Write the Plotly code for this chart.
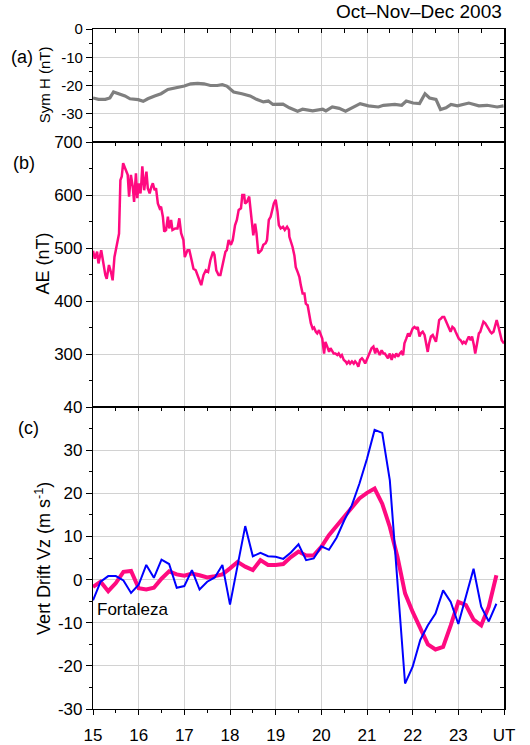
import plotly.graph_objects as go

# ---------------- data ----------------
symh_ut = [15.00, 15.12, 15.27, 15.37, 15.45, 15.56, 15.70, 15.81, 15.99, 16.10, 16.20, 16.35, 16.49,
           16.64, 16.78, 17.00, 17.14, 17.29, 17.43, 17.57, 17.72, 17.83, 17.93, 18.08, 18.26, 18.44,
           18.58, 18.73, 18.84, 18.94, 19.16, 19.30, 19.48, 19.59, 19.81, 20.03, 20.10, 20.24, 20.39,
           20.53, 20.67, 20.85, 21.03, 21.25, 21.36, 21.61, 21.76, 21.86, 22.01, 22.15, 22.27, 22.37,
           22.51, 22.61, 22.73, 22.84, 22.98, 23.23, 23.45, 23.63, 23.85, 23.99]
symh_nt = [-24.4, -24.9, -24.9, -24.4, -22.3, -22.9, -23.7, -24.7, -25.0, -25.6, -24.7, -23.7, -22.9,
           -21.4, -20.9, -20.2, -19.4, -19.2, -19.4, -20.0, -20.0, -19.7, -20.2, -22.3, -22.9, -23.7,
           -24.9, -25.8, -25.5, -26.7, -26.6, -27.9, -29.1, -28.4, -29.0, -28.4, -29.0, -27.6, -28.1,
           -29.1, -27.9, -26.4, -27.2, -27.6, -27.0, -26.7, -27.0, -25.5, -26.2, -26.4, -22.9, -24.4,
           -24.9, -28.5, -27.9, -26.7, -27.2, -26.2, -27.2, -27.0, -27.6, -27.2]

ae_ut = [15.00, 15.04, 15.09, 15.12, 15.18, 15.23, 15.27, 15.30, 15.35, 15.40, 15.43, 15.47, 15.52,
         15.57, 15.60, 15.63, 15.66, 15.71, 15.76, 15.79, 15.83, 15.87, 15.90, 15.94, 15.97, 16.00,
         16.04, 16.06, 16.08, 16.12, 16.17, 16.20, 16.24, 16.28, 16.31, 16.35, 16.38, 16.42, 16.46,
         16.49, 16.53, 16.56, 16.60, 16.64, 16.67, 16.71, 16.74, 16.80, 16.85, 16.89, 16.93, 16.98,
         17.01, 17.07, 17.11, 17.16, 17.20, 17.25, 17.29, 17.34, 17.37, 17.42, 17.47, 17.52, 17.57,
         17.63, 17.66, 17.70, 17.75, 17.79, 17.83, 17.86, 17.90, 17.93, 17.97, 18.02, 18.06, 18.11,
         18.15, 18.19, 18.24, 18.27, 18.31, 18.33, 18.37, 18.42, 18.45, 18.49, 18.51, 18.55, 18.58,
         18.62, 18.66, 18.69, 18.73, 18.78, 18.81, 18.85, 18.89, 18.93, 18.96, 19.00, 19.04, 19.07,
         19.11, 19.16, 19.20, 19.25, 19.29, 19.30, 19.34, 19.37, 19.41, 19.44, 19.48, 19.52, 19.55,
         19.59, 19.63, 19.66, 19.70, 19.73, 19.77, 19.81, 19.84, 19.88, 19.91, 19.95, 19.99, 20.02,
         20.06, 20.09, 20.13, 20.17, 20.20, 20.24, 20.27, 20.31, 20.35, 20.38, 20.42, 20.45, 20.49,
         20.53, 20.56, 20.60, 20.63, 20.67, 20.71, 20.74, 20.78, 20.81, 20.85, 20.89, 20.92, 20.96,
         20.99, 21.03, 21.07, 21.10, 21.14, 21.18, 21.21, 21.25, 21.28, 21.32, 21.36, 21.39, 21.43,
         21.46, 21.50, 21.54, 21.57, 21.61, 21.64, 21.68, 21.72, 21.75, 21.79, 21.82, 21.86, 21.90,
         21.93, 21.97, 22.00, 22.04, 22.08, 22.11, 22.15, 22.18, 22.22, 22.26, 22.29, 22.33, 22.36,
         22.40, 22.44, 22.47, 22.51, 22.55, 22.58, 22.62, 22.65, 22.69, 22.73, 22.76, 22.80, 22.83,
         22.87, 22.91, 22.94, 22.98, 23.01, 23.05, 23.09, 23.12, 23.16, 23.19, 23.23, 23.27, 23.30,
         23.34, 23.37, 23.41, 23.45, 23.48, 23.52, 23.55, 23.59, 23.63, 23.66, 23.70, 23.73, 23.77,
         23.81, 23.84, 23.88, 23.91, 23.95, 24.00]
ae_nt = [495, 480, 493, 471, 496, 468, 449, 442, 468, 452, 439, 483, 502,
         527, 628, 635, 660, 650, 638, 597, 638, 616, 587, 641, 594, 622,
         603, 625, 654, 609, 644, 613, 603, 616, 622, 609, 613, 584, 575,
         578, 559, 531, 534, 559, 537, 553, 534, 537, 537, 556, 528, 515,
         483, 496, 496, 477, 461, 458, 449, 436, 430, 449, 458, 455, 477,
         493, 487, 458, 449, 449, 465, 471, 493, 496, 515, 506, 515, 543,
         553, 572, 575, 600, 600, 584, 587, 597, 575, 546, 524, 546, 528,
         490, 493, 496, 506, 509, 515, 553, 559, 572, 584, 591, 569, 543,
         537, 540, 534, 540, 534, 521, 511, 502, 486, 464, 455, 445, 430,
         414, 414, 395, 392, 373, 358, 348, 350, 342, 339, 345, 336, 329,
         301, 323, 314, 304, 311, 304, 301, 301, 298, 301, 295, 298, 289,
         286, 282, 286, 282, 286, 282, 286, 282, 276, 289, 292, 289, 282,
         289, 298, 307, 311, 314, 301, 311, 304, 298, 307, 301, 301, 295,
         292, 301, 289, 298, 295, 301, 295, 301, 304, 298, 320, 329, 339,
         333, 342, 348, 351, 348, 351, 333, 339, 342, 336, 320, 304, 320,
         333, 336, 329, 323, 345, 364, 367, 370, 370, 361, 354, 348, 342,
         351, 348, 342, 336, 329, 326, 320, 323, 320, 326, 333, 326, 333,
         317, 301, 320, 339, 342, 354, 361, 358, 351, 348, 342, 339, 342,
         354, 364, 351, 339, 326, 320]

# vertical drift, 10-minute samples starting at 15 UT
drift_ut = [15 + i / 6 for i in range(54)]
drift_pink = [-1.7, -0.5, -2.7, -0.8, 1.8, 2.0, -2.0, -2.3, -1.9, 0.2, 1.9, 1.2, 0.9, 1.4, 1.0,
              0.5, 0.8, 1.2, 2.6, 4.1, 3.0, 2.2, 4.5, 3.4, 3.4, 3.6, 5.2, 6.5, 5.6, 5.6, 7.6,
              10.3, 12.4, 14.5, 16.8, 18.8, 20.1, 21.1, 17.6, 12.2, 5.3, -3.2, -7.5, -11.4,
              -15.0, -16.2, -15.6, -10.6, -5.2, -5.9, -9.3, -10.6, -6.3, 1.0]
drift_fortaleza = [-4.8, -0.5, 0.8, 0.8, -0.2, -3.1, -1.2, 3.4, 0.4, 4.6, 3.6, -1.9, -1.5, 2.2,
                   -2.3, -0.5, 0.5, 3.4, -5.8, 3.4, 12.4, 5.4, 6.2, 5.4, 5.3, 4.8, 6.3, 8.2, 4.5,
                   4.9, 7.7, 6.9, 9.7, 13.7, 17.2, 22.2, 28.0, 34.7, 34.0, 23.0, -1.0, -24.1,
                   -20.2, -14.0, -10.6, -7.9, -2.5, -5.2, -10.3, -3.6, 2.5, -6.3, -9.7, -5.6]

hour_ticks = [15, 16, 17, 18, 19, 20, 21, 22, 23, 24]
hour_labels = ["15", "16", "17", "18", "19", "20", "21", "22", "23", "UT"]
symh_ticks = [0, -10, -20, -30]
symh_labels = ["0", "-10", "-20", "-30"]
ae_ticks = [300, 400, 500, 600, 700]
vz_ticks = [-30, -20, -10, 0, 10, 20, 30, 40]
vz_labels = ["-30", "-20", "-10", "0", "10", "20", "30", "40"]

# ---------------- figure ----------------
FONT = "Arial, Liberation Sans, sans-serif"
GRID = "#d2d2d2"
PINK = "#FF0A80"
BLUE = "#0000FF"
GRAY = "#7f7f7f"
TICKSIZE = 17

fig = go.Figure()
fig.add_trace(go.Scatter(x=symh_ut, y=symh_nt, mode="lines", line=dict(color=GRAY, width=3.2),
                         xaxis="x", yaxis="y", showlegend=False))
fig.add_trace(go.Scatter(x=ae_ut, y=ae_nt, mode="lines", line=dict(color=PINK, width=2.5),
                         xaxis="x2", yaxis="y2", showlegend=False))
fig.add_trace(go.Scatter(x=drift_ut, y=drift_pink, mode="lines", line=dict(color=PINK, width=4),
                         xaxis="x3", yaxis="y3", showlegend=False))
fig.add_trace(go.Scatter(x=drift_ut, y=drift_fortaleza, mode="lines", line=dict(color=BLUE, width=2),
                         xaxis="x3", yaxis="y3", showlegend=False))

d1 = [0.8338, 1.0]
d2 = [0.4441, 0.8338]
d3 = [0.0, 0.4441]

def xcommon(**kw):
    base = dict(range=[15, 24], tickvals=hour_ticks, showgrid=True, gridcolor=GRID, gridwidth=1,
                zeroline=False, showline=True, linecolor="black", linewidth=1.2,
                tickcolor="black", fixedrange=True, automargin=False)
    base.update(kw)
    return base

def ycommon(**kw):
    base = dict(showgrid=True, gridcolor=GRID, gridwidth=1, zeroline=False, showline=True,
                linecolor="black", linewidth=1.2, ticks="outside", ticklen=6, tickcolor="black",
                tickfont=dict(family=FONT, size=TICKSIZE, color="black"), fixedrange=True,
                automargin=False)
    base.update(kw)
    return base

minor_in = dict(dtick=0.5, ticks="inside", ticklen=4, tickcolor="black", showgrid=False)

def right_axis(over, anchor, rng, dt):
    return dict(overlaying=over, side="right", anchor=anchor, range=rng, dtick=dt, ticks="inside",
                ticklen=4, tickcolor="black", showticklabels=False, showgrid=False, zeroline=False,
                showline=True, linecolor="black", linewidth=1.5, fixedrange=True, automargin=False)

fig.update_layout(
    template="none",
    width=530, height=745,
    margin=dict(l=93, r=26, t=29, b=36, autoexpand=False),
    paper_bgcolor="white", plot_bgcolor="white",
    font=dict(family=FONT, color="black"),
    # panel a
    xaxis=xcommon(anchor="y", side="top", ticks="inside", ticklen=4, showticklabels=False,
                  mirror=True, minor=minor_in),
    yaxis=ycommon(domain=d1, anchor="x", range=[-40, 0], tickvals=symh_ticks, ticktext=symh_labels,
                  tickfont=dict(family=FONT, size=15, color="black"),
                  minor=dict(dtick=5, ticks="outside", ticklen=3, tickcolor="black", showgrid=False)),
    yaxis4=right_axis("y", "x", [-40, 0], 5),
    # panel b
    xaxis2=xcommon(anchor="y2", side="top", ticks="inside", ticklen=4, showticklabels=False,
                   mirror=True, minor=minor_in),
    yaxis2=ycommon(domain=d2, anchor="x2", range=[200, 700], tickvals=ae_ticks,
                   minor=dict(dtick=50, ticks="outside", ticklen=3, tickcolor="black", showgrid=False)),
    yaxis5=right_axis("y2", "x2", [200, 700], 50),
    # panel c
    xaxis3=xcommon(anchor="y3", side="bottom", ticks="outside", ticklen=5, ticktext=hour_labels,
                   tickfont=dict(family=FONT, size=TICKSIZE, color="black"), ticklabelstandoff=5,
                   minor=dict(dtick=0.5, ticks="outside", ticklen=3, tickcolor="black", showgrid=False)),
    xaxis4=dict(overlaying="x3", anchor="y3", side="top", range=[15, 24], tickvals=hour_ticks,
                ticks="inside", ticklen=4, tickcolor="black", showticklabels=False, showgrid=False,
                zeroline=False, showline=True, linecolor="black", linewidth=1.2, fixedrange=True,
                minor=minor_in, automargin=False),
    yaxis3=ycommon(domain=d3, anchor="x3", range=[-30, 40], tickvals=vz_ticks, ticktext=vz_labels,
                   minor=dict(dtick=5, ticks="outside", ticklen=3, tickcolor="black", showgrid=False)),
    yaxis6=right_axis("y3", "x3", [-30, 40], 5),
)

# invisible traces so that overlay axes are drawn
for xa, ya in [("x", "y4"), ("x2", "y5"), ("x4", "y6")]:
    fig.add_trace(go.Scatter(x=[None], y=[None], xaxis=xa, yaxis=ya, showlegend=False,
                             hoverinfo="skip"))

def ann(text, x, y, size, angle=0, xanchor="center", yanchor="middle"):
    fig.add_annotation(text=text, x=x, y=y, xref="paper", yref="paper", showarrow=False,
                       textangle=angle, xanchor=xanchor, yanchor=yanchor,
                       font=dict(family=FONT, size=size, color="black"))

ann("Oct\u2013Nov\u2013Dec 2003", 1.0, 1.026, 19, xanchor="right")
ann("(a)", -0.172, 0.9588, 18)
ann("(b)", -0.168, 0.803, 18)
ann("(c)", -0.158, 0.413, 18)
ann("Sym H (nT)", -0.118, 0.918, 15, angle=-90)
ann("AE (nT)", -0.122, 0.655, 18, angle=-90)
ann("Vert Drift Vz (m s<sup>-1</sup>)", -0.122, 0.222, 18, angle=-90)
ann("Fortaleza", 0.006, 0.147, 17, xanchor="left")

fig.write_html("out.html")
